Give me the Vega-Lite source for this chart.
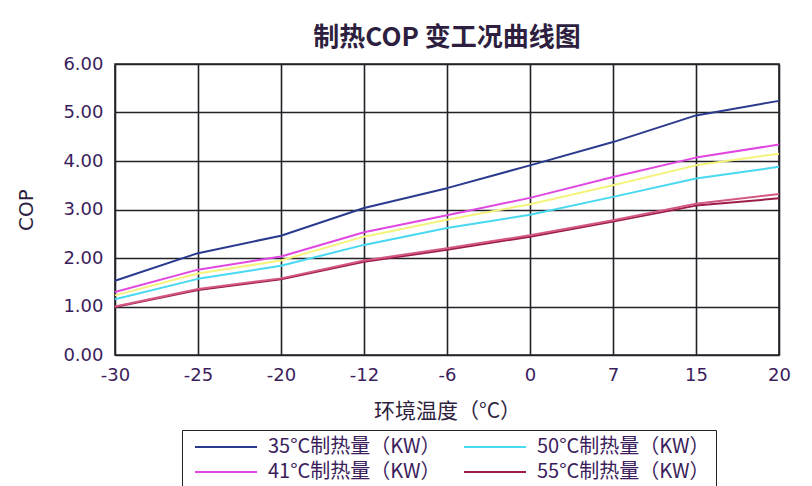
{
  "$schema": "https://vega.github.io/schema/vega-lite/v6.json",
  "width": 664,
  "height": 291,
  "autosize": {"type": "none"},
  "padding": {"left": 115, "top": 64, "right": 33, "bottom": 131},
  "background": "white",
  "title": {
    "text": "制热COP 变工况曲线图",
    "font": "Noto Sans CJK SC",
    "fontSize": 26,
    "fontWeight": "bold",
    "color": "#2e1f40",
    "anchor": "middle",
    "offset": 4
  },
  "config": {
    "view": {"stroke": "#222228", "strokeWidth": 1.6},
    "axis": {
      "grid": true,
      "gridColor": "#222228",
      "gridWidth": 1.6,
      "gridOpacity": 1,
      "domain": false,
      "ticks": false,
      "labelFont": "DejaVu Sans",
      "labelFontSize": 18,
      "labelColor": "#3b1d5c",
      "titleColor": "#2e1f40",
      "titleFontWeight": "normal"
    },
    "legend": {
      "strokeColor": "#222228",
      "padding": 6,
      "fillColor": "white"
    }
  },
  "data": {
    "values": [
      {"s": "35°C制热量（KW）", "t": "-30", "cop": 1.53},
      {"s": "35°C制热量（KW）", "t": "-25", "cop": 2.1},
      {"s": "35°C制热量（KW）", "t": "-20", "cop": 2.46},
      {"s": "35°C制热量（KW）", "t": "-12", "cop": 3.03},
      {"s": "35°C制热量（KW）", "t": "-6", "cop": 3.44},
      {"s": "35°C制热量（KW）", "t": "0", "cop": 3.91},
      {"s": "35°C制热量（KW）", "t": "7", "cop": 4.39},
      {"s": "35°C制热量（KW）", "t": "15", "cop": 4.94},
      {"s": "35°C制热量（KW）", "t": "20", "cop": 5.24},
      {"s": "41°C制热量（KW）", "t": "-30", "cop": 1.3},
      {"s": "41°C制热量（KW）", "t": "-25", "cop": 1.76},
      {"s": "41°C制热量（KW）", "t": "-20", "cop": 2.03},
      {"s": "41°C制热量（KW）", "t": "-12", "cop": 2.53},
      {"s": "41°C制热量（KW）", "t": "-6", "cop": 2.88},
      {"s": "41°C制热量（KW）", "t": "0", "cop": 3.24},
      {"s": "41°C制热量（KW）", "t": "7", "cop": 3.67},
      {"s": "41°C制热量（KW）", "t": "15", "cop": 4.07},
      {"s": "41°C制热量（KW）", "t": "20", "cop": 4.34},
      {"s": "45°C制热量（KW）", "t": "-30", "cop": 1.23},
      {"s": "45°C制热量（KW）", "t": "-25", "cop": 1.68},
      {"s": "45°C制热量（KW）", "t": "-20", "cop": 1.95},
      {"s": "45°C制热量（KW）", "t": "-12", "cop": 2.44},
      {"s": "45°C制热量（KW）", "t": "-6", "cop": 2.79},
      {"s": "45°C制热量（KW）", "t": "0", "cop": 3.11},
      {"s": "45°C制热量（KW）", "t": "7", "cop": 3.5},
      {"s": "45°C制热量（KW）", "t": "15", "cop": 3.91},
      {"s": "45°C制热量（KW）", "t": "20", "cop": 4.15},
      {"s": "50°C制热量（KW）", "t": "-30", "cop": 1.15},
      {"s": "50°C制热量（KW）", "t": "-25", "cop": 1.57},
      {"s": "50°C制热量（KW）", "t": "-20", "cop": 1.84},
      {"s": "50°C制热量（KW）", "t": "-12", "cop": 2.27},
      {"s": "50°C制热量（KW）", "t": "-6", "cop": 2.62},
      {"s": "50°C制热量（KW）", "t": "0", "cop": 2.89},
      {"s": "50°C制热量（KW）", "t": "7", "cop": 3.26},
      {"s": "50°C制热量（KW）", "t": "15", "cop": 3.64},
      {"s": "50°C制热量（KW）", "t": "20", "cop": 3.88},
      {"s": "55°C制热量（KW）", "t": "-30", "cop": 0.99},
      {"s": "55°C制热量（KW）", "t": "-25", "cop": 1.34},
      {"s": "55°C制热量（KW）", "t": "-20", "cop": 1.56},
      {"s": "55°C制热量（KW）", "t": "-12", "cop": 1.92},
      {"s": "55°C制热量（KW）", "t": "-6", "cop": 2.17},
      {"s": "55°C制热量（KW）", "t": "0", "cop": 2.44},
      {"s": "55°C制热量（KW）", "t": "7", "cop": 2.75},
      {"s": "55°C制热量（KW）", "t": "15", "cop": 3.08},
      {"s": "55°C制热量（KW）", "t": "20", "cop": 3.23},
      {"s": "60°C制热量（KW）", "t": "-30", "cop": 1.0},
      {"s": "60°C制热量（KW）", "t": "-25", "cop": 1.36},
      {"s": "60°C制热量（KW）", "t": "-20", "cop": 1.58},
      {"s": "60°C制热量（KW）", "t": "-12", "cop": 1.95},
      {"s": "60°C制热量（KW）", "t": "-6", "cop": 2.2},
      {"s": "60°C制热量（KW）", "t": "0", "cop": 2.47},
      {"s": "60°C制热量（KW）", "t": "7", "cop": 2.78},
      {"s": "60°C制热量（KW）", "t": "15", "cop": 3.12},
      {"s": "60°C制热量（KW）", "t": "20", "cop": 3.32}
    ]
  },
  "mark": {"type": "line", "strokeJoin": "round"},
  "encoding": {
    "x": {
      "field": "t",
      "type": "ordinal",
      "sort": ["-30", "-25", "-20", "-12", "-6", "0", "7", "15", "20"],
      "scale": {"type": "point", "padding": 0},
      "axis": {
        "labelAngle": 0,
        "labelPadding": 11,
        "title": "环境温度（°C）",
        "titleFont": "Noto Sans CJK SC",
        "titleFontSize": 21,
        "titlePadding": 16
      }
    },
    "y": {
      "field": "cop",
      "type": "quantitative",
      "scale": {"domain": [0, 6], "nice": false},
      "axis": {
        "values": [0, 1, 2, 3, 4, 5, 6],
        "format": ".2f",
        "labelPadding": 12,
        "title": "COP",
        "titleFont": "DejaVu Sans",
        "titleFontSize": 20,
        "titlePadding": 26
      }
    },
    "color": {
      "field": "s",
      "type": "nominal",
      "scale": {
        "domain": ["35°C制热量（KW）", "41°C制热量（KW）", "45°C制热量（KW）", "50°C制热量（KW）", "55°C制热量（KW）", "60°C制热量（KW）"],
        "range": ["#2b3a8e", "#e048e0", "#f4f47c", "#48d8f0", "#9b1c48", "#d45886"]
      },
      "legend": {
        "title": null,
        "orient": "none",
        "legendX": 67,
        "legendY": 366,
        "direction": "vertical",
        "columns": 2,
        "columnPadding": 16,
        "rowPadding": 4,
        "values": ["35°C制热量（KW）", "41°C制热量（KW）", "50°C制热量（KW）", "55°C制热量（KW）"],
        "symbolType": "M-3.1,0H3.1",
        "symbolSize": 400,
        "symbolStrokeWidth": 2,
        "symbolOffset": 27,
        "labelFont": "Noto Sans CJK SC",
        "labelFontSize": 20,
        "labelColor": "#3b1d5c",
        "labelOffset": 31,
        "labelLimit": 0
      }
    },
    "strokeWidth": {
      "field": "s",
      "type": "ordinal",
      "scale": {
        "domain": ["35°C制热量（KW）", "41°C制热量（KW）", "45°C制热量（KW）", "50°C制热量（KW）", "55°C制热量（KW）", "60°C制热量（KW）"],
        "range": [2, 2, 3.5, 2.5, 3, 2.5]
      },
      "legend": null
    }
  }
}
